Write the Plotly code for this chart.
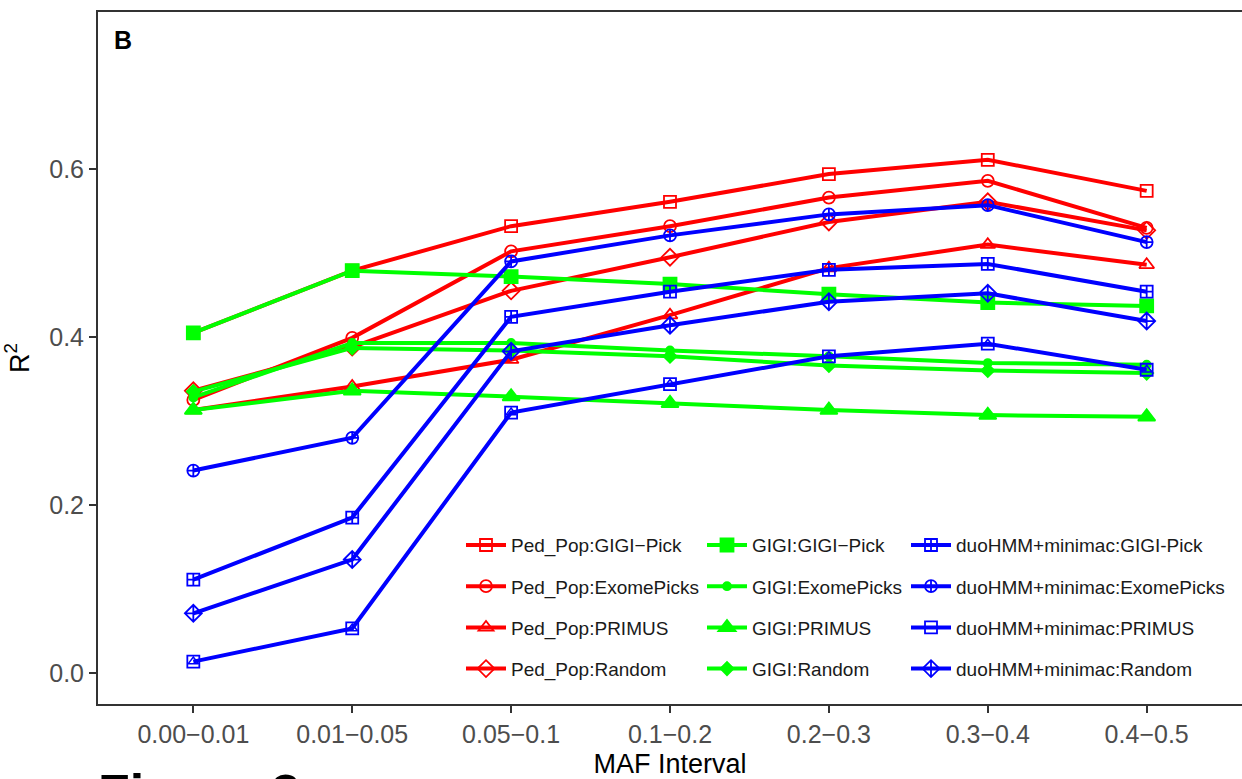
import plotly.graph_objects as go

# MAF bins on the x axis
maf_bins = ["0.00\u22120.01", "0.01\u22120.05", "0.05\u22120.1", "0.1\u22120.2",
            "0.2\u22120.3", "0.3\u22120.4", "0.4\u22120.5"]

# Ped_Pop imputation
ped_gigi_pick = [0.405, 0.479, 0.532, 0.561, 0.594, 0.611, 0.574]
ped_exome_picks = [0.325, 0.399, 0.502, 0.532, 0.566, 0.586, 0.530]
ped_primus = [0.313, 0.341, 0.373, 0.426, 0.482, 0.510, 0.486]
ped_random = [0.336, 0.388, 0.455, 0.495, 0.537, 0.561, 0.527]

# GIGI imputation
gigi_gigi_pick = [0.405, 0.479, 0.472, 0.463, 0.451, 0.441, 0.437]
gigi_exome_picks = [0.328, 0.393, 0.393, 0.384, 0.377, 0.369, 0.367]
gigi_primus = [0.313, 0.336, 0.329, 0.321, 0.313, 0.307, 0.305]
gigi_random = [0.335, 0.387, 0.384, 0.377, 0.366, 0.360, 0.357]

# duoHMM + minimac imputation
duo_gigi_pick = [0.111, 0.185, 0.424, 0.454, 0.480, 0.487, 0.454]
duo_exome_picks = [0.241, 0.280, 0.490, 0.521, 0.546, 0.557, 0.513]
duo_primus = [0.0135, 0.053, 0.310, 0.344, 0.377, 0.392, 0.361]
duo_random = [0.071, 0.135, 0.383, 0.414, 0.442, 0.452, 0.419]

RED, GREEN, BLUE = "#FF0000", "#00FF00", "#0000FF"
LW = 4
MLW = 1.8

series = [
    # name, values, colour, symbol, size, legend
    ("Ped_Pop:GIGI\u2212Pick", ped_gigi_pick, RED, "square-open", 12, "legend"),
    ("Ped_Pop:ExomePicks", ped_exome_picks, RED, "circle-open", 12, "legend"),
    ("Ped_Pop:PRIMUS", ped_primus, RED, "triangle-up-open", 13, "legend"),
    ("Ped_Pop:Random", ped_random, RED, "diamond-open", 13, "legend"),
    ("GIGI:GIGI\u2212Pick", gigi_gigi_pick, GREEN, "square", 13, "legend2"),
    ("GIGI:ExomePicks", gigi_exome_picks, GREEN, "circle", 8, "legend2"),
    ("GIGI:PRIMUS", gigi_primus, GREEN, "triangle-up", 15, "legend2"),
    ("GIGI:Random", gigi_random, GREEN, "diamond", 10, "legend2"),
    ("duoHMM+minimac:GIGI-Pick", duo_gigi_pick, BLUE, "square-cross-open", 12, "legend3"),
    ("duoHMM+minimac:ExomePicks", duo_exome_picks, BLUE, "circle-cross-open", 12, "legend3"),
    ("duoHMM+minimac:PRIMUS", duo_primus, BLUE, "square-open", 12, "legend3"),
    ("duoHMM+minimac:Random", duo_random, BLUE, "diamond-cross-open", 13, "legend3"),
]

fig = go.Figure()
for i, (name, vals, col, sym, size, leg) in enumerate(series):
    fig.add_trace(go.Scatter(
        x=maf_bins, y=vals, name=name, mode="lines+markers",
        line=dict(color=col, width=LW),
        marker=dict(symbol=sym, size=size, color=col,
                    line=dict(color=col, width=MLW)),
        legend=leg, legendgroup=f"g{i}",
    ))
    if name == "duoHMM+minimac:PRIMUS":
        # inner triangle of the square-triangle symbol
        fig.add_trace(go.Scatter(
            x=maf_bins, y=vals, mode="markers", showlegend=False,
            marker=dict(symbol="triangle-up-open", size=9, color=col,
                        line=dict(color=col, width=1.5)),
            legendgroup=f"g{i}", hoverinfo="skip",
        ))

legend_common = dict(
    orientation="v", xanchor="left", yanchor="top",
    bgcolor="rgba(0,0,0,0)", borderwidth=0,
    font=dict(family="Liberation Sans, Arial, sans-serif", size=19, color="#1A1A1A"),
    tracegroupgap=13.5, itemwidth=40,
)

PLOT_L, PLOT_W = 98, 1144


def px_x(px):
    return (px - PLOT_L) / PLOT_W


fig.update_layout(
    width=1242, height=779,
    margin=dict(l=PLOT_L, r=0, t=12, b=75),
    paper_bgcolor="white", plot_bgcolor="white",
    font=dict(family="Liberation Sans, Arial, sans-serif", color="black"),
    legend=dict(x=px_x(461), y=0.257, **legend_common),
    legend2=dict(x=px_x(702), y=0.257, **legend_common),
    legend3=dict(x=px_x(906), y=0.257, **legend_common),
    xaxis=dict(
        type="category", categoryorder="array", categoryarray=maf_bins,
        range=[-0.6, 6.6], showgrid=False, zeroline=False,
        showline=True, linecolor="#333333", linewidth=2, mirror=True,
        ticks="outside", ticklen=7, tickwidth=2, tickcolor="#333333",
        tickfont=dict(size=25, color="#4D4D4D"),
        title=dict(text="MAF Interval", font=dict(size=27, color="black"), standoff=10),
        automargin=False,
    ),
    yaxis=dict(
        range=[-0.037, 0.787], tickvals=[0.0, 0.2, 0.4, 0.6],
        ticktext=["0.0", "0.2", "0.4", "0.6"],
        showgrid=False, zeroline=False,
        showline=True, linecolor="#333333", linewidth=2, mirror=False,
        ticks="outside", ticklen=7, tickwidth=2, tickcolor="#333333",
        tickfont=dict(size=25, color="#4D4D4D"),
        title=dict(text="R<sup>2</sup>", font=dict(size=27, color="black"), standoff=12),
        automargin=False,
    ),
    annotations=[
        dict(text="<b>B</b>", xref="paper", yref="paper", x=px_x(112), y=0.982,
             xanchor="left", yanchor="top", showarrow=False,
             font=dict(size=25, color="black")),
        dict(text="<b>Figure 3</b>", xref="paper", yref="paper", x=px_x(96), y=-0.0838,
             xanchor="left", yanchor="top", showarrow=False,
             font=dict(size=52, color="black")),
    ],
)

fig.write_html("out.html")
